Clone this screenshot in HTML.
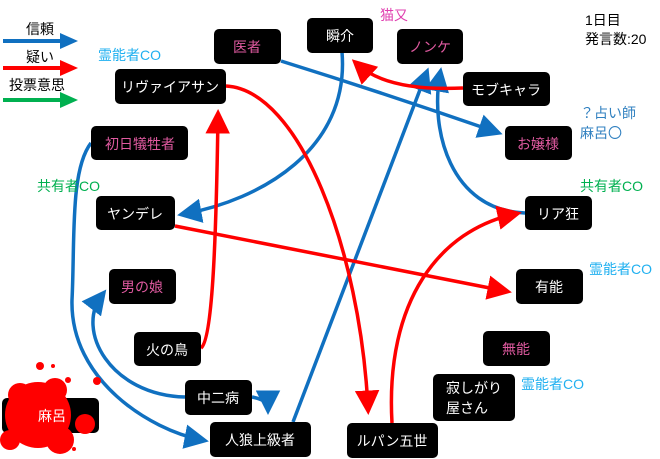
<!DOCTYPE html>
<html><head><meta charset="utf-8"><style>
body{margin:0;background:#fff;}
svg{display:block;font-family:"Liberation Sans","Noto Sans CJK JP",sans-serif;}
</style></head><body>
<svg width="660" height="459" viewBox="0 0 660 459" xmlns="http://www.w3.org/2000/svg">
<defs>
<marker id="b" markerWidth="7" markerHeight="7" refX="5" refY="3.5" orient="auto" markerUnits="strokeWidth"><path d="M0,0L7,3.5L0,7z" fill="#1070c0"/></marker>
<marker id="r" markerWidth="7" markerHeight="7" refX="5" refY="3.5" orient="auto" markerUnits="strokeWidth"><path d="M0,0L7,3.5L0,7z" fill="#ff0000"/></marker>
</defs>
<g font-size="14" fill="#000">
<text x="26" y="34">信頼</text><text x="26" y="62">疑い</text><text x="9" y="90">投票意思</text>
</g>
<line x1="3" y1="41" x2="62" y2="41" stroke="#1070c0" stroke-width="4"/><path d="M60,33L78,41L60,49z" fill="#1070c0"/>
<line x1="3" y1="68" x2="62" y2="68" stroke="#ff0000" stroke-width="4"/><path d="M60,60L78,68L60,76z" fill="#ff0000"/>
<line x1="3" y1="100" x2="62" y2="100" stroke="#00b050" stroke-width="4"/><path d="M60,92L78,100L60,108z" fill="#00b050"/>

<g fill="none" stroke-width="3.5">
<path d="M281,61 Q390,95 496,132" stroke="#1070c0" marker-end="url(#b)"/>
<path d="M342,52 C350,150 260,200 184,214" stroke="#1070c0" marker-end="url(#b)"/>
<path d="M293,422 L426,74" stroke="#1070c0" marker-end="url(#b)"/>
<path d="M525,213 C450,210 430,130 440,74" stroke="#1070c0" marker-end="url(#b)"/>
<path d="M91,143 C70,170 75,240 72,300 C70,380 150,430 202,440" stroke="#1070c0" marker-end="url(#b)"/>
<path d="M185,397 C110,395 75,330 102,295" stroke="#1070c0" marker-end="url(#b)"/>
<path d="M252,397 Q268,400 268,408" stroke="#1070c0" marker-end="url(#b)"/>
<path d="M463,88 C420,90 380,85 357,64" stroke="#ff0000" marker-end="url(#r)"/>
<path d="M226,86 C300,90 360,250 368,408" stroke="#ff0000" marker-end="url(#r)"/>
<path d="M201,348 C212,340 216,250 218,116" stroke="#ff0000" marker-end="url(#r)"/>
<path d="M175,226 L505,291" stroke="#ff0000" marker-end="url(#r)"/>
<path d="M392,423 C385,300 440,230 515,214" stroke="#ff0000" marker-end="url(#r)"/>
</g>

<g fill="#000">
<rect x="214" y="29" width="67" height="35" rx="5"/>
<rect x="307" y="18" width="66" height="35" rx="5"/>
<rect x="397" y="29" width="66" height="35" rx="5"/>
<rect x="463" y="72" width="87" height="34" rx="5"/>
<rect x="505" y="126" width="67" height="34" rx="5"/>
<rect x="525" y="196" width="67" height="34" rx="5"/>
<rect x="115" y="69" width="111" height="35" rx="5"/>
<rect x="91" y="126" width="97" height="34" rx="5"/>
<rect x="96" y="196" width="79" height="34" rx="5"/>
<rect x="516" y="269" width="67" height="35" rx="5"/>
<rect x="483" y="331" width="67" height="35" rx="5"/>
<rect x="433" y="374" width="82" height="47" rx="5"/>
<rect x="347" y="423" width="91" height="35" rx="5"/>
<rect x="210" y="422" width="101" height="35" rx="5"/>
<rect x="185" y="380" width="67" height="35" rx="5"/>
<rect x="134" y="332" width="67" height="34" rx="5"/>
<rect x="109" y="269" width="67" height="35" rx="5"/>
<rect x="2" y="398" width="97" height="35" rx="5"/>
</g>
<g fill="#ff0000">
<circle cx="38" cy="415" r="33"/><circle cx="20" cy="395" r="12"/><circle cx="60" cy="440" r="14"/>
<circle cx="85" cy="424" r="10"/><circle cx="40" cy="366" r="4"/><circle cx="53" cy="366" r="2"/>
<circle cx="68" cy="380" r="3"/><circle cx="97" cy="381" r="4"/><circle cx="74" cy="449" r="2"/>
<circle cx="10" cy="440" r="10"/><circle cx="55" cy="390" r="12"/>
</g>

<g font-size="14" text-anchor="middle" fill="#fff">
<text x="247" y="52" fill="#e05aa0">医者</text>
<text x="340" y="41">瞬介</text>
<text x="430" y="52" fill="#e05aa0">ノンケ</text>
<text x="506" y="95">モブキャラ</text>
<text x="538" y="149" fill="#e05aa0">お嬢様</text>
<text x="558" y="219">リア狂</text>
<text x="170" y="92">リヴァイアサン</text>
<text x="140" y="149" fill="#e05aa0">初日犠牲者</text>
<text x="135" y="219">ヤンデレ</text>
<text x="549" y="292">有能</text>
<text x="516" y="354" fill="#e05aa0">無能</text>
<text x="446" y="393" text-anchor="start">寂しがり</text>
<text x="446" y="413" text-anchor="start">屋さん</text>
<text x="392" y="446">ルパン五世</text>
<text x="260" y="445">人狼上級者</text>
<text x="218" y="403">中二病</text>
<text x="167" y="355">火の鳥</text>
<text x="142" y="292" fill="#e05aa0">男の娘</text>
<text x="52" y="421">麻呂</text>
</g>
<g font-size="14">
<text x="98" y="60" fill="#20b0f0">霊能者CO</text>
<text x="380" y="20" fill="#e040b0">猫又</text>
<text x="585" y="25" fill="#000">1日目</text>
<text x="585" y="44" fill="#000">発言数:20</text>
<text x="580" y="118" fill="#3080c0">？占い師</text>
<text x="580" y="138" fill="#3080c0">麻呂〇</text>
<text x="37" y="191" fill="#00b050">共有者CO</text>
<text x="580" y="191" fill="#00b050">共有者CO</text>
<text x="589" y="274" fill="#20b0f0">霊能者CO</text>
<text x="521" y="389" fill="#20b0f0">霊能者CO</text>
</g>
</svg>
</body></html>
